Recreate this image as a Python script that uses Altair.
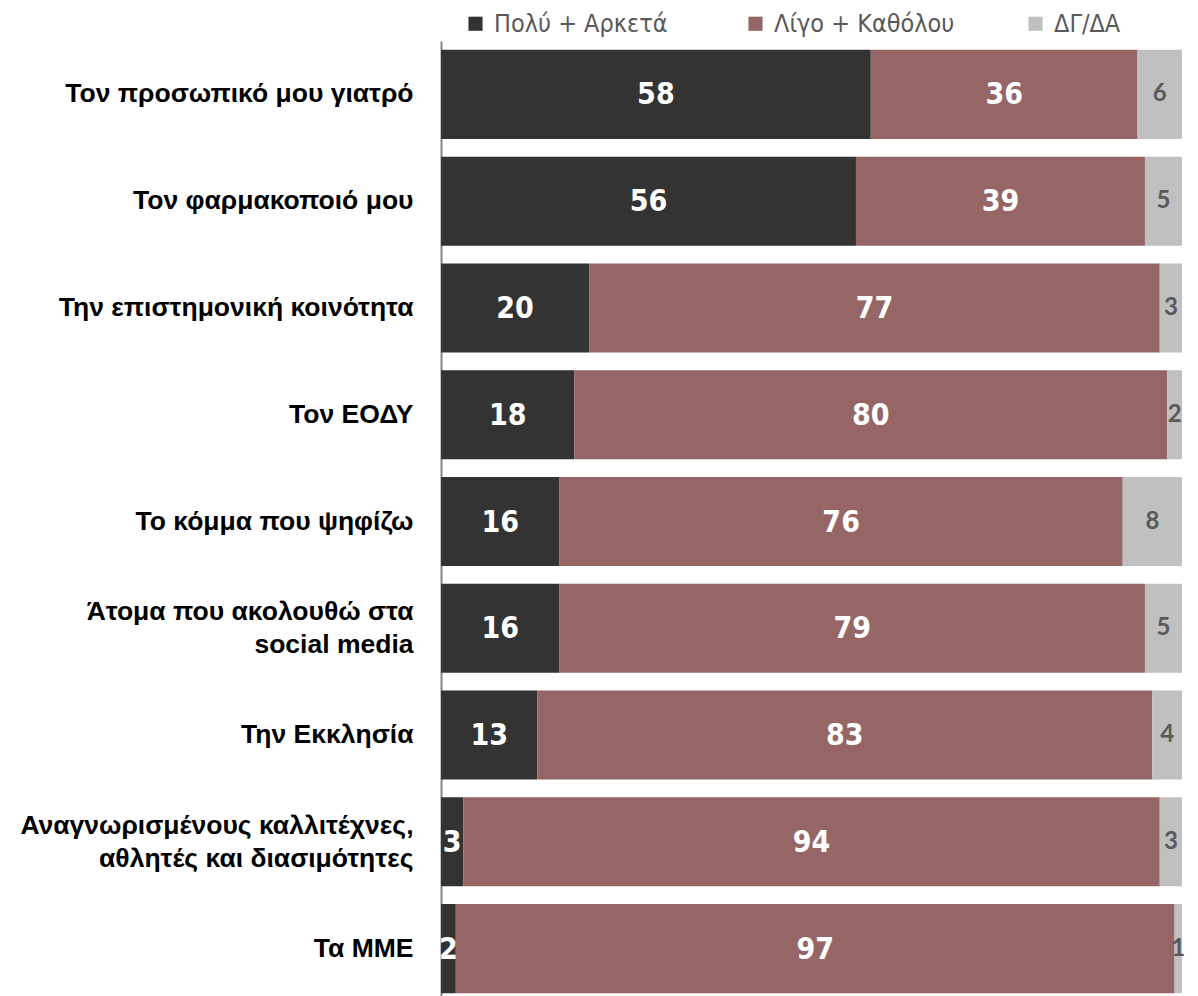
import altair as alt
import pandas as pd

categories = [
    "Τον προσωπικό μου γιατρό",
    "Τον φαρμακοποιό μου",
    "Την επιστημονική κοινότητα",
    "Τον ΕΟΔΥ",
    "Το κόμμα που ψηφίζω",
    "Άτομα που ακολουθώ στα\nsocial media",
    "Την Εκκλησία",
    "Αναγνωρισμένους καλλιτέχνες,\nαθλητές και διασιμότητες",
    "Τα ΜΜΕ",
]
series = ["Πολύ + Αρκετά", "Λίγο + Καθόλου", "ΔΓ/ΔΑ"]
much = [58, 56, 20, 18, 16, 16, 13, 3, 2]
little = [36, 39, 77, 80, 76, 79, 83, 94, 97]
dkna = [6, 5, 3, 2, 8, 5, 4, 3, 1]
colors = ["#333333", "#966666", "#c0c0c0"]

rows = []
for i, c in enumerate(categories):
    for j, (s, vals) in enumerate(zip(series, [much, little, dkna])):
        rows.append({"cat": c, "series": s, "value": vals[i], "order": j})
df = pd.DataFrame(rows)

NARROW = "DejaVu Sans Condensed, Roboto, sans-serif"

base = alt.Chart(df).encode(
    y=alt.Y("cat:N", sort=categories, title=None,
            scale=alt.Scale(paddingInner=0.166, paddingOuter=0.083),
            axis=alt.Axis(labelExpr="split(datum.value, '\\n')",
                          labelFont="Liberation Sans", labelFontWeight="bold",
                          labelFontSize=26.5, labelColor="#000000", labelLimit=420,
                          labelPadding=28, labelLineHeight=33,
                          labelOffset={"condition": {"test": "indexof(datum.value, '\\n') >= 0",
                                                     "value": -16},
                                       "value": 0},
                          ticks=False, domainColor="#868686", domainWidth=2,
                          grid=False)),
    x=alt.X("value:Q", stack="zero", title=None,
            scale=alt.Scale(domain=[0, 100], nice=False),
            axis=None),
    order=alt.Order("order:Q"),
)

bars = base.mark_bar().encode(
    color=alt.Color("series:N", sort=series,
                    scale=alt.Scale(domain=series, range=colors),
                    legend=alt.Legend(title=None, orient="none", direction="horizontal",
                                      columns=3, gridAlign="all", columnPadding=68,
                                      legendX=22, legendY=-30,
                                      symbolType="square", symbolSize=200,
                                      symbolStrokeWidth=0, symbolOpacity=1,
                                      labelFont=NARROW,
                                      labelFontSize=25, labelColor="#595959",
                                      labelOffset=6, labelLimit=300)),
)

inner = base.mark_text(font=NARROW, fontWeight="bold",
                       fontSize=30, color="white", baseline="middle",
                       align="center", dy=1).encode(
    x=alt.X("mid:Q"), text="value:Q"
).transform_filter("datum.order < 2")

outer = base.mark_text(font="Lato", fontWeight="bold",
                       fontSize=24, color="#595959", baseline="middle",
                       align="center").encode(
    x=alt.X("mid:Q"), text="value:Q"
).transform_filter("datum.order == 2")

chart = alt.layer(bars, inner, outer).transform_stack(
    stack="value", groupby=["cat"], as_=["v0", "v1"],
    sort=[alt.SortField("order")]
).transform_calculate(mid="(datum.v0 + datum.v1) / 2").properties(
    width=741, height=961,
    autosize=alt.AutoSizeParams(type="none"),
    padding={"left": 433, "top": 33, "right": 8, "bottom": 0},
).configure_view(stroke=None)

chart.save("out.html", embed_options={"renderer": "svg", "actions": False})
